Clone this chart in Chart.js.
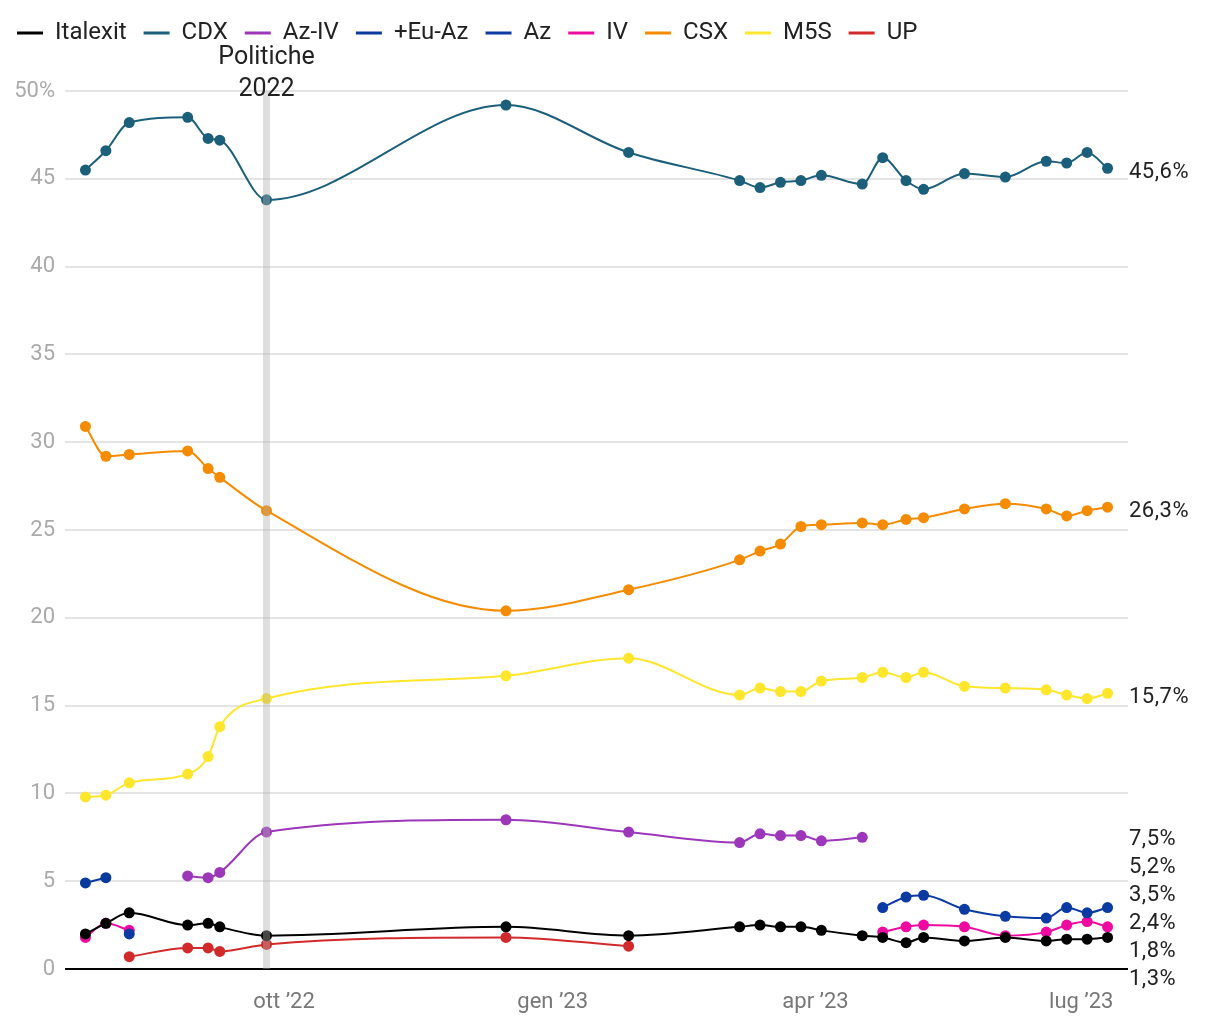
<!DOCTYPE html>
<html>
<head>
<meta charset="utf-8">
<script src="https://cdn.jsdelivr.net/npm/chart.js@4.4.0/dist/chart.umd.min.js"></script>
<style>
  html, body { margin: 0; padding: 0; background: #fff; }
  #wrap { width: 1220px; height: 1020px; }
</style>
</head>
<body>
<div id="wrap"><canvas id="chart"></canvas></div>
<script>
// poll dates (one column per survey)
var pollDates = ['2022-07-25', '2022-08-01', '2022-08-09', '2022-08-29', '2022-09-05', '2022-09-09',
    '2022-09-25', '2022-12-16', '2023-01-27', '2023-03-06', '2023-03-13', '2023-03-20',
    '2023-03-27', '2023-04-03', '2023-04-17', '2023-04-24', '2023-05-02', '2023-05-08',
    '2023-05-22', '2023-06-05', '2023-06-19', '2023-06-26', '2023-07-03', '2023-07-10'];

var seriesNames = ['Italexit', 'CDX', 'Az-IV', '+Eu-Az', 'Az', 'IV', 'CSX', 'M5S', 'UP'];
var seriesColors = ['#000000', '#1b5f7a', '#9c37ba', '#0a3a9c', '#0b3ba2', '#ee0aa0', '#f58b00', '#fde62c', '#d22a2a'];

var italexit = [2.0, 2.6, 3.2, 2.5, 2.6, 2.4, 1.9, 2.4, 1.9, 2.4, 2.5, 2.4, 2.4, 2.2, 1.9, 1.8, 1.5, 1.8, 1.6, 1.8, 1.6, 1.7, 1.7, 1.8];
var cdx = [45.5, 46.6, 48.2, 48.5, 47.3, 47.2, 43.8, 49.2, 46.5, 44.9, 44.5, 44.8, 44.9, 45.2, 44.7, 46.2, 44.9, 44.4, 45.3, 45.1, 46.0, 45.9, 46.5, 45.6];
var azIv = [null, null, null, 5.3, 5.2, 5.5, 7.8, 8.5, 7.8, 7.2, 7.7, 7.6, 7.6, 7.3, 7.5, null, null, null, null, null, null, null, null, null];
var euAz = [4.9, 5.2, null, null, null, null, null, null, null, null, null, null, null, null, null, null, null, null, null, null, null, null, null, null];
var az = [null, null, 2.0, null, null, null, null, null, null, null, null, null, null, null, null, 3.5, 4.1, 4.2, 3.4, 3.0, 2.9, 3.5, 3.2, 3.5];
var iv = [1.8, 2.6, 2.2, null, null, null, null, null, null, null, null, null, null, null, null, 2.1, 2.4, 2.5, 2.4, 1.9, 2.1, 2.5, 2.7, 2.4];
var csx = [30.9, 29.2, 29.3, 29.5, 28.5, 28.0, 26.1, 20.4, 21.6, 23.3, 23.8, 24.2, 25.2, 25.3, 25.4, 25.3, 25.6, 25.7, 26.2, 26.5, 26.2, 25.8, 26.1, 26.3];
var m5s = [9.8, 9.9, 10.6, 11.1, 12.1, 13.8, 15.4, 16.7, 17.7, 15.6, 16.0, 15.8, 15.8, 16.4, 16.6, 16.9, 16.6, 16.9, 16.1, 16.0, 15.9, 15.6, 15.4, 15.7];
var up = [null, null, 0.7, 1.2, 1.2, 1.0, 1.4, 1.8, 1.3, null, null, null, null, null, null, null, null, null, null, null, null, null, null, null];

var allSeries = [italexit, cdx, azIv, euAz, az, iv, csx, m5s, up];

var tickDates = ['2022-10-01', '2023-01-01', '2023-04-01', '2023-07-01'];
var tickLabels = ['ott ’22', 'gen ’23', 'apr ’23', 'lug ’23'];
var electionDate = '2022-09-25';

function dayOf(s) {
    return (Date.parse(s) - Date.parse('2022-10-01')) / 864e5;
}

var datasets = allSeries.map(function (vals, i) {
    return {
        label: seriesNames[i],
        data: vals.map(function (v, k) { return { x: dayOf(pollDates[k]), y: v }; }),
        borderColor: seriesColors[i],
        backgroundColor: seriesColors[i],
        borderWidth: 2,
        pointRadius: 5.5,
        pointBorderWidth: 0,
        pointHoverRadius: 5.5,
        cubicInterpolationMode: 'monotone',
        spanGaps: false
    };
});

// extra room under the legend so the plot starts lower
var legendRoom = {
    id: 'legendRoom',
    beforeLayout: function (chart) {
        var lg = chart.legend;
        if (lg && !lg._roomPatched) {
            var fit = lg.fit;
            lg.fit = function () {
                fit.call(this);
                this.height += 36;
            };
            lg._roomPatched = true;
        }
    }
};

// grey band + label on election day
var electionMark = {
    id: 'electionMark',
    afterDatasetsDraw: function (chart) {
        var ctx = chart.ctx, area = chart.chartArea;
        var x = chart.scales.x.getPixelForValue(dayOf(electionDate));
        ctx.save();
        ctx.fillStyle = 'rgba(175,175,175,0.4)';
        ctx.fillRect(x - 3.5, area.top, 7, area.bottom - area.top);
        ctx.fillStyle = '#222';
        ctx.font = '25px Roboto';
        ctx.textAlign = 'center';
        ctx.textBaseline = 'middle';
        ctx.fillText('Politiche', x, area.top - 33);
        ctx.fillText('2022', x, area.top - 1);
        ctx.restore();
    }
};

// last value of each series on the right, spread out to avoid overlaps
var lastLabels = {
    id: 'lastLabels',
    afterDatasetsDraw: function (chart) {
        var ys = chart.scales.y, ctx = chart.ctx, items = [];
        chart.data.datasets.forEach(function (ds) {
            for (var k = ds.data.length - 1; k >= 0; k--) {
                if (ds.data[k].y != null) {
                    items.push({ v: ds.data[k].y, y: ys.getPixelForValue(ds.data[k].y) + 5 });
                    break;
                }
            }
        });
        items.sort(function (a, b) { return a.y - b.y; });
        var gap = 28;
        for (var it = 0; it < 300; it++) {
            var moved = false;
            for (var j = 1; j < items.length; j++) {
                var d = items[j].y - items[j - 1].y;
                if (d < gap - 0.01) {
                    var s = (gap - d) / 2;
                    items[j].y += s;
                    items[j - 1].y -= s;
                    moved = true;
                }
            }
            if (!moved) break;
        }
        ctx.save();
        ctx.fillStyle = '#222';
        ctx.font = '22px Roboto';
        ctx.letterSpacing = '0.5px';
        ctx.textAlign = 'left';
        ctx.textBaseline = 'middle';
        items.forEach(function (item) {
            ctx.fillText(item.v.toFixed(1).replace('.', ',') + '%', chart.chartArea.right + 1, item.y - 1);
        });
        ctx.restore();
    }
};

var ctx = document.getElementById('chart').getContext('2d');
var pollChart = new Chart(ctx, {
    type: 'line',
    data: { datasets: datasets },
    plugins: [legendRoom, electionMark, lastLabels],
    options: {
        responsive: true,
        maintainAspectRatio: false,
        animation: false,
        layout: { padding: { left: 0, right: 92, top: 4, bottom: 0 } },
        plugins: {
            legend: {
                position: 'top',
                align: 'start',
                labels: {
                    usePointStyle: true,
                    pointStyle: 'line',
                    pointStyleWidth: 26,
                    color: '#222',
                    font: { family: 'Roboto', size: 24 },
                    padding: 17,
                    generateLabels: function (chart) {
                        return chart.data.datasets.map(function (ds, i) {
                            return {
                                text: ds.label,
                                fillStyle: ds.borderColor,
                                strokeStyle: ds.borderColor,
                                lineWidth: 3,
                                pointStyle: 'line',
                                fontColor: '#222',
                                hidden: false,
                                datasetIndex: i
                            };
                        });
                    }
                }
            },
            tooltip: { enabled: false }
        },
        scales: {
            x: {
                type: 'linear',
                min: dayOf('2022-07-18'),
                max: dayOf('2023-07-17'),
                afterBuildTicks: function (scale) {
                    scale.ticks = tickDates.map(function (d) { return { value: dayOf(d) }; });
                },
                afterFit: function (scale) { scale.height = 51; },
                grid: { display: false },
                border: { display: false },
                ticks: {
                    autoSkip: false,
                    maxRotation: 0,
                    padding: 12,
                    color: '#777',
                    font: { family: 'Roboto', size: 22 },
                    callback: function (v) {
                        for (var i = 0; i < tickDates.length; i++) {
                            if (Math.abs(dayOf(tickDates[i]) - v) < 0.5) return tickLabels[i];
                        }
                        return '';
                    }
                }
            },
            y: {
                min: 0,
                max: 50,
                afterFit: function (scale) { scale.width = 65; },
                border: { display: false },
                grid: {
                    drawTicks: false,
                    lineWidth: 2,
                    color: function (c) { return c.tick && c.tick.value === 0 ? '#000' : '#e4e4e4'; }
                },
                ticks: {
                    stepSize: 5,
                    padding: 10,
                    color: '#aaa',
                    font: { family: 'Roboto', size: 22 },
                    callback: function (v) { return v === 50 ? '50%' : v; }
                }
            }
        }
    }
});
</script>
</body>
</html>
